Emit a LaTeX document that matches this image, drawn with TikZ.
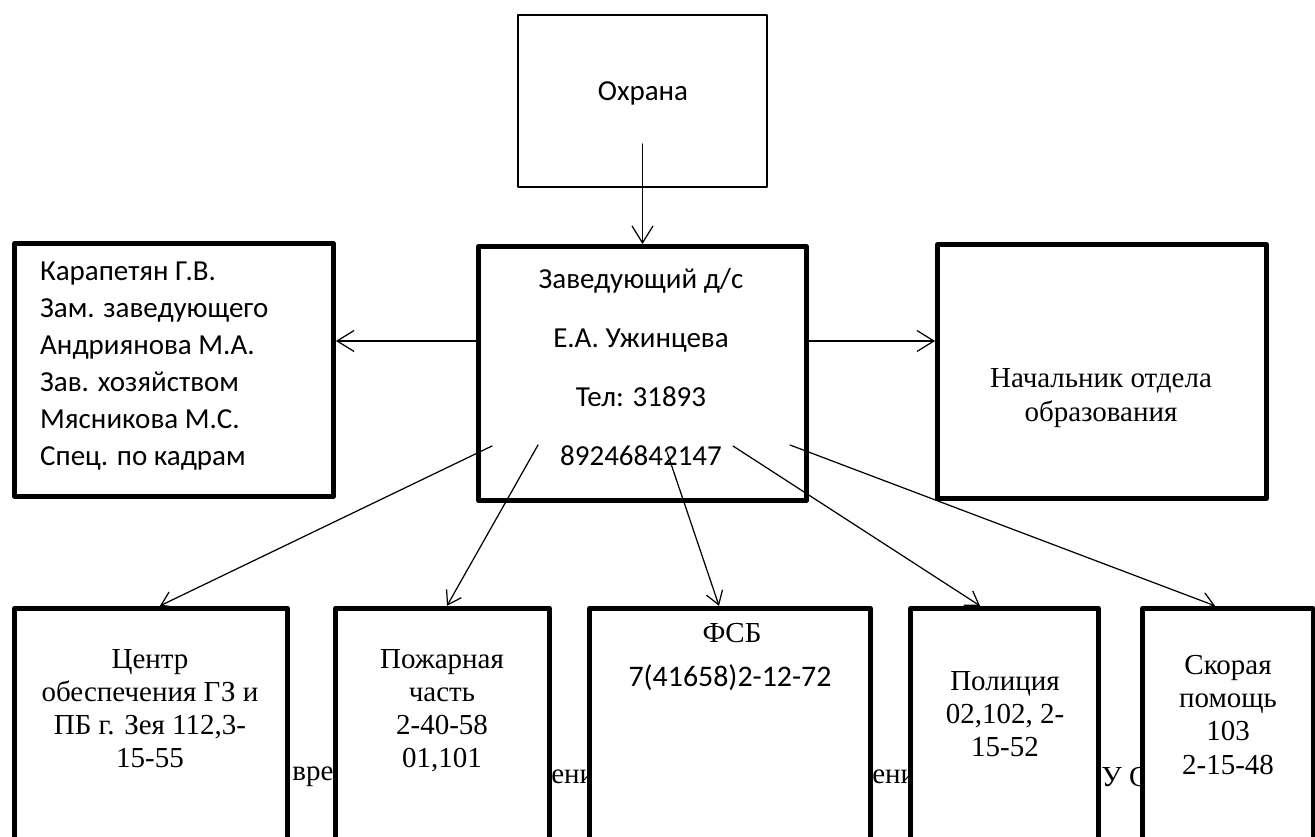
\documentclass[tikz,border=0pt]{standalone}
\usepackage{fontspec}
\setmainfont{Liberation Serif}
\newfontfamily\calibrifont{Carlito}
\usetikzlibrary{arrows.meta}

\begin{document}
\begin{tikzpicture}[line cap=round, line join=round, x=0.02cm, y=-0.02cm,
	>={Straight Barb[length=3.4mm,width=4.2mm]},
	box/.style={draw, line width=2.8pt, fill=white, inner sep=0pt},
	serif/.style={align=center, font=\fontsize{16.5}{18.8}\selectfont},
	sans/.style={align=center, font=\calibrifont\fontsize{16.5}{21}\selectfont},
	link/.style={line width=0.7pt}]
	\useasboundingbox (0,0) rectangle (1315,837);
	\clip (0,0) rectangle (1315,837);
	% scraps of the page underneath
	\foreach \x/\t in {292/вре, 551/ени, 872/ени, 1101/У С} {
		\node[serif, anchor=west, inner sep=0pt] (bg\x) at (\x,777) {\t};
	}
	% boxes
	\node[box, line width=1.1pt, minimum width=4.98cm, minimum height=3.44cm] (ohr) at (642.5,101) {};
	\node[box, minimum width=6.38cm, minimum height=5.06cm] (staff) at (174,370) {};
	\node[box, minimum width=6.56cm, minimum height=5.08cm] (head) at (642.5,373.5) {};
	\node[box, minimum width=6.58cm, minimum height=5.08cm] (dept) at (1102,371.5) {};
	\node[box, minimum width=5.46cm, minimum height=5.03cm] (gz) at (151,734) {};
	\node[box, minimum width=4.28cm, minimum height=5.03cm] (fire) at (442.5,734) {};
	\node[box, minimum width=5.62cm, minimum height=5.03cm] (fsb) at (730,734) {};
	\node[box, minimum width=3.76cm, minimum height=5.03cm] (pol) at (1004.5,734) {};
	\node[box, minimum width=3.41cm, minimum height=5.03cm] (amb) at (1227.75,734) {};
	% texts
	\node[sans] (ohrt) at (643,93) {Охрана};
	\node[sans, align=left, anchor=west] (stafft) at (34,366) {Карапетян Г.В.\\Зам. заведующего\\Андриянова М.А.\\Зав. хозяйством\\Мясникова М.С.\\Спец. по кадрам};
	\node[sans, font=\calibrifont\fontsize{16.5}{33.5}\selectfont] (headt) at (641,367) {Заведующий д/с\\Е.А. Ужинцева\\Тел: 31893\\89246842147};
	\node[serif, font=\fontsize{16.5}{19.3}\selectfont] (deptt) at (1101,398) {Начальник отдела\\образования};
	\node[serif] (gzt) at (150,709) {Центр\\обеспечения ГЗ и\\ПБ г. Зея 112,3-\\15-55};
	\node[serif] (firet) at (442,711) {Пожарная\\часть\\2-40-58\\01,101};
	\node[serif] (fsbt) at (732,633) {ФСБ};
	\node[sans, font=\calibrifont\fontsize{17}{21}\selectfont] (fsbtel) at (730,678) {7(41658)2-12-72};
	\node[serif] (polt) at (1005,714) {Полиция\\02,102, 2-\\15-52};
	\node[serif] (ambt) at (1228,715) {Скорая\\помощь\\103\\2-15-48};
	% connectors
	\coordinate (hl) at (478,341);
	\coordinate (hr) at (807,341);
	\coordinate (s1) at (492,446);
	\coordinate (s2) at (538,445);
	\coordinate (s3) at (667,452);
	\coordinate (s4) at (733,446);
	\coordinate (s5) at (790,445);
	\draw[link, ->] ([yshift=0.88cm]ohr.south) -- (head.north);
	\draw[link, ->] (hl) -- (hl -| staff.east);
	\draw[link, ->] (hr) -- (hr -| dept.west);
	\foreach \s/\t/\x in {s1/gz/160, s2/fire/447, s3/fsb/719, s4/pol/980, s5/amb/1215} {
		\draw[link, -{Straight Barb[length=2.6mm,width=3.4mm]}] (\s) -- (\x,0 |- \t.north);
	}
\end{tikzpicture}
\end{document}
